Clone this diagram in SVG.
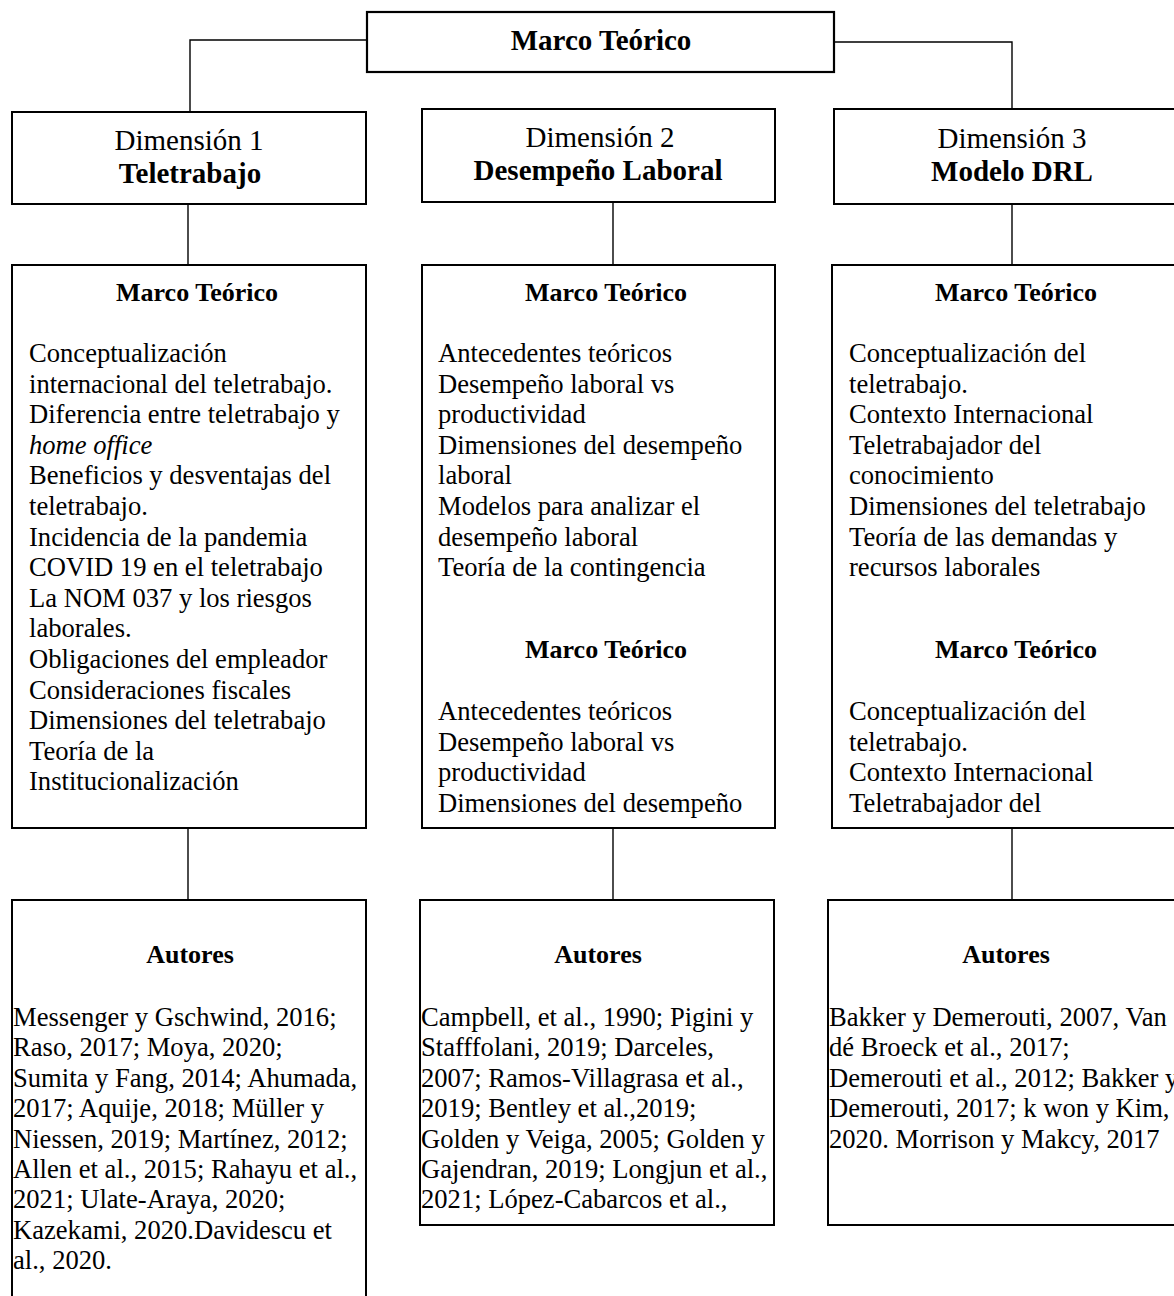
<svg xmlns="http://www.w3.org/2000/svg" width="1174" height="1296" viewBox="0 0 1174 1296">
  <style>
    .box { fill: #ffffff; stroke: #000000; stroke-width: 2; }
    .top { fill: #ffffff; stroke: #000000; stroke-width: 2.2; }
    .link { fill: none; stroke: #000000; stroke-width: 1.4; }
    text { font-family: "Liberation Serif", "Times New Roman", serif; fill: #000000; }
    .title { font-size: 29px; font-weight: bold; text-anchor: middle; }
    .dim { font-size: 29px; text-anchor: middle; }
    .dimb { font-size: 29px; font-weight: bold; text-anchor: middle; }
    .head { font-size: 26px; font-weight: bold; text-anchor: middle; }
    .body { font-size: 26.6px; }
  </style>

  <!-- connectors -->
  <g id="connectors">
    <polyline class="link" points="367,40 190,40 190,111"/>
    <polyline class="link" points="834,42 1012,42 1012,109"/>
    <line class="link" x1="188" y1="204" x2="188" y2="265"/>
    <line class="link" x1="613" y1="202" x2="613" y2="265"/>
    <line class="link" x1="1012" y1="204" x2="1012" y2="265"/>
    <line class="link" x1="188" y1="828" x2="188" y2="900"/>
    <line class="link" x1="613" y1="828" x2="613" y2="900"/>
    <line class="link" x1="1012" y1="828" x2="1012" y2="900"/>
  </g>

  <!-- root -->
  <g id="root">
    <rect class="top" x="367" y="12" width="467" height="60"/>
    <text class="title" x="601" y="50">Marco Teórico</text>
  </g>

  <!-- dimension headers -->
  <g id="dim1">
    <rect class="box" x="12" y="112" width="354" height="92"/>
    <text class="dim" x="189" y="150">Dimensión 1</text>
    <text class="dimb" x="190" y="183">Teletrabajo</text>
  </g>
  <g id="dim2">
    <rect class="box" x="422" y="109" width="353" height="93"/>
    <text class="dim" x="600" y="147">Dimensión 2</text>
    <text class="dimb" x="598" y="180">Desempeño Laboral</text>
  </g>
  <g id="dim3">
    <rect class="box" x="834" y="109" width="360" height="95"/>
    <text class="dim" x="1012" y="148">Dimensión 3</text>
    <text class="dimb" x="1012" y="181">Modelo DRL</text>
  </g>

  <!-- theoretical framework boxes -->
  <g id="marco1">
    <rect class="box" x="12" y="265" width="354" height="563"/>
    <text class="head" x="197" y="301">Marco Teórico</text>
    <text class="body" x="29" y="362">
      <tspan x="29">Conceptualización</tspan>
      <tspan x="29" dy="30.6">internacional del teletrabajo.</tspan>
      <tspan x="29" dy="30.6">Diferencia entre teletrabajo y</tspan>
      <tspan x="29" dy="30.6" font-style="italic">home office</tspan>
      <tspan x="29" dy="30.6">Beneficios y desventajas del</tspan>
      <tspan x="29" dy="30.6">teletrabajo.</tspan>
      <tspan x="29" dy="30.6">Incidencia de la pandemia</tspan>
      <tspan x="29" dy="30.6">COVID 19 en el teletrabajo</tspan>
      <tspan x="29" dy="30.6">La NOM 037 y los riesgos</tspan>
      <tspan x="29" dy="30.6">laborales.</tspan>
      <tspan x="29" dy="30.6">Obligaciones del empleador</tspan>
      <tspan x="29" dy="30.6">Consideraciones fiscales</tspan>
      <tspan x="29" dy="30.6">Dimensiones del teletrabajo</tspan>
      <tspan x="29" dy="30.6">Teoría de la</tspan>
      <tspan x="29" dy="30.6">Institucionalización</tspan>
    </text>
  </g>

  <g id="marco2">
    <rect class="box" x="422" y="265" width="353" height="563"/>
    <text class="head" x="606" y="301">Marco Teórico</text>
    <text class="body" x="438" y="362">
      <tspan x="438">Antecedentes teóricos</tspan>
      <tspan x="438" dy="30.6">Desempeño laboral vs</tspan>
      <tspan x="438" dy="30.6">productividad</tspan>
      <tspan x="438" dy="30.6">Dimensiones del desempeño</tspan>
      <tspan x="438" dy="30.6">laboral</tspan>
      <tspan x="438" dy="30.6">Modelos para analizar el</tspan>
      <tspan x="438" dy="30.6">desempeño laboral</tspan>
      <tspan x="438" dy="30.6">Teoría de la contingencia</tspan>
    </text>
    <text class="head" x="606" y="658">Marco Teórico</text>
    <text class="body" x="438" y="720">
      <tspan x="438">Antecedentes teóricos</tspan>
      <tspan x="438" dy="30.6">Desempeño laboral vs</tspan>
      <tspan x="438" dy="30.6">productividad</tspan>
      <tspan x="438" dy="30.6">Dimensiones del desempeño</tspan>
    </text>
  </g>

  <g id="marco3">
    <rect class="box" x="832" y="265" width="362" height="563"/>
    <text class="head" x="1016" y="301">Marco Teórico</text>
    <text class="body" x="849" y="362">
      <tspan x="849">Conceptualización del</tspan>
      <tspan x="849" dy="30.6">teletrabajo.</tspan>
      <tspan x="849" dy="30.6">Contexto Internacional</tspan>
      <tspan x="849" dy="30.6">Teletrabajador del</tspan>
      <tspan x="849" dy="30.6">conocimiento</tspan>
      <tspan x="849" dy="30.6">Dimensiones del teletrabajo</tspan>
      <tspan x="849" dy="30.6">Teoría de las demandas y</tspan>
      <tspan x="849" dy="30.6">recursos laborales</tspan>
    </text>
    <text class="head" x="1016" y="658">Marco Teórico</text>
    <text class="body" x="849" y="720">
      <tspan x="849">Conceptualización del</tspan>
      <tspan x="849" dy="30.6">teletrabajo.</tspan>
      <tspan x="849" dy="30.6">Contexto Internacional</tspan>
      <tspan x="849" dy="30.6">Teletrabajador del</tspan>
    </text>
  </g>

  <!-- author boxes -->
  <g id="autores1">
    <rect class="box" x="12" y="900" width="354" height="410"/>
    <text class="head" x="190" y="963">Autores</text>
    <text class="body" x="13" y="1026">
      <tspan x="13">Messenger y Gschwind, 2016;</tspan>
      <tspan x="13" dy="30.4">Raso, 2017; Moya, 2020;</tspan>
      <tspan x="13" dy="30.4">Sumita y Fang, 2014; Ahumada,</tspan>
      <tspan x="13" dy="30.4">2017; Aquije, 2018; Müller y</tspan>
      <tspan x="13" dy="30.4">Niessen, 2019; Martínez, 2012;</tspan>
      <tspan x="13" dy="30.4">Allen et al., 2015; Rahayu et al.,</tspan>
      <tspan x="13" dy="30.4">2021; Ulate-Araya, 2020;</tspan>
      <tspan x="13" dy="30.4">Kazekami, 2020.Davidescu et</tspan>
      <tspan x="13" dy="30.4">al., 2020.</tspan>
    </text>
  </g>

  <g id="autores2">
    <rect class="box" x="420" y="900" width="354" height="325"/>
    <text class="head" x="598" y="963">Autores</text>
    <text class="body" x="421" y="1026">
      <tspan x="421">Campbell, et al., 1990; Pigini y</tspan>
      <tspan x="421" dy="30.4">Stafffolani, 2019; Darceles,</tspan>
      <tspan x="421" dy="30.4">2007; Ramos-Villagrasa et al.,</tspan>
      <tspan x="421" dy="30.4">2019; Bentley et al.,2019;</tspan>
      <tspan x="421" dy="30.4">Golden y Veiga, 2005; Golden y</tspan>
      <tspan x="421" dy="30.4">Gajendran, 2019; Longjun et al.,</tspan>
      <tspan x="421" dy="30.4">2021; López-Cabarcos et al.,</tspan>
    </text>
  </g>

  <g id="autores3">
    <rect class="box" x="828" y="900" width="366" height="325"/>
    <text class="head" x="1006" y="963">Autores</text>
    <text class="body" x="829" y="1026">
      <tspan x="829">Bakker y Demerouti, 2007, Van</tspan>
      <tspan x="829" dy="30.4">dé Broeck et al., 2017;</tspan>
      <tspan x="829" dy="30.4">Demerouti et al., 2012; Bakker y</tspan>
      <tspan x="829" dy="30.4">Demerouti, 2017; k won y Kim,</tspan>
      <tspan x="829" dy="30.4">2020. Morrison y Makcy, 2017</tspan>
    </text>
  </g>
</svg>
